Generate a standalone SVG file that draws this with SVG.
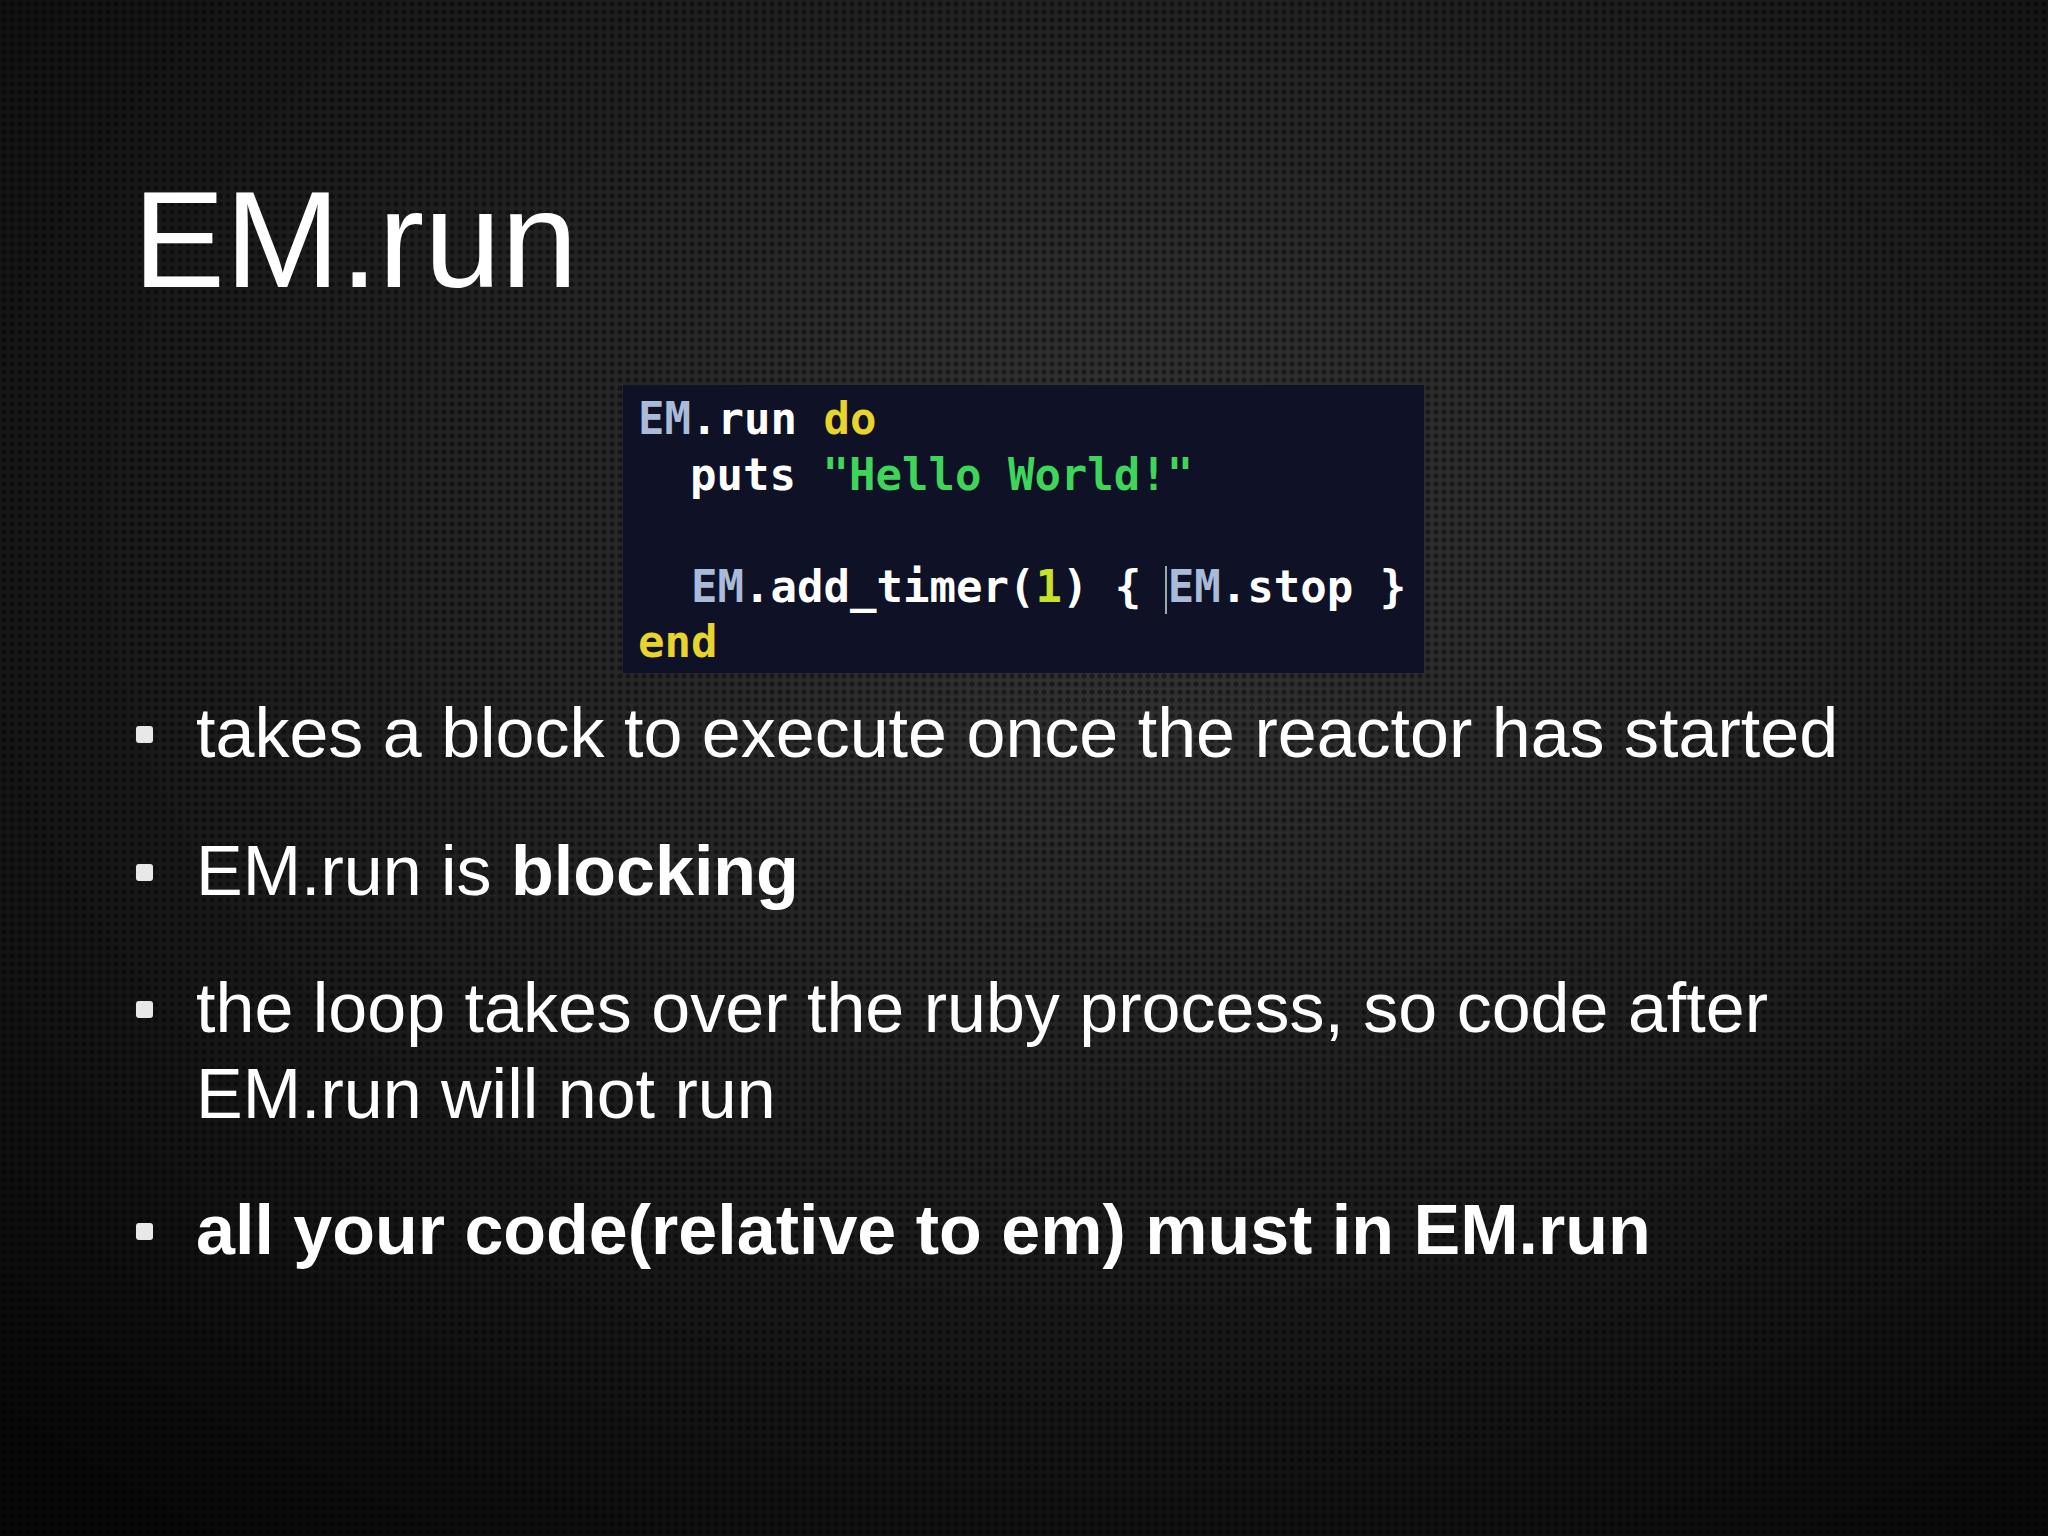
<svg xmlns="http://www.w3.org/2000/svg" width="2048" height="1536" viewBox="0 0 2048 1536">
<defs>
<radialGradient id="bg" cx="0.55" cy="0.35" r="0.8">
<stop offset="0" stop-color="#363636"/><stop offset="1" stop-color="#080808"/>
</radialGradient>
<pattern id="dots" width="8" height="8" patternUnits="userSpaceOnUse">
<circle cx="4" cy="4" r="2.6" fill="#000" fill-opacity="0.45"/>
</pattern>
<style>
.t{font-family:"Liberation Sans",Arial,sans-serif;fill:#fff}
.b{font-size:70px}
.c{font-family:"DejaVu Sans Mono",monospace;font-size:44px;font-weight:bold;fill:#fff}
.bul{fill:#e8e8e8}
</style>
</defs>
<rect width="2048" height="1536" fill="url(#bg)"/>
<rect width="2048" height="1536" fill="url(#dots)"/>
<text class="t" x="133" y="287" font-size="138">EM.run</text>
<g id="code">
<rect x="623" y="385" width="801" height="288" fill="#0f1226"/>
<text class="c" x="638" y="434"><tspan fill="#a9bbd9">EM</tspan>.run <tspan fill="#e8d42a">do</tspan></text>
<text class="c" x="690" y="490">puts <tspan fill="#3fd45a">"Hello World!"</tspan></text>
<text class="c" x="638" y="602" xml:space="preserve">  <tspan fill="#a9bbd9">EM</tspan>.add_timer(<tspan fill="#c7e02a">1</tspan>) { <tspan fill="#a9bbd9">EM</tspan>.stop }</text>
<line x1="1166" y1="566" x2="1166" y2="614" stroke="#9aa" stroke-width="2"/>
<text class="c" x="638" y="657" style="fill:#e8d42a">end</text>
</g>
<g id="bullets">
<rect class="bul" x="136" y="726" width="17" height="17" rx="3"/>
<rect class="bul" x="136" y="864" width="17" height="17" rx="3"/>
<rect class="bul" x="136" y="1001" width="17" height="17" rx="3"/>
<rect class="bul" x="136" y="1223" width="17" height="17" rx="3"/>
<text class="t b" x="196" y="757">takes a block to execute once the reactor has started</text>
<text class="t b" x="196" y="895">EM.run is <tspan font-weight="bold">blocking</tspan></text>
<text class="t b" x="196" y="1032">the loop takes over the ruby process, so code after</text>
<text class="t b" x="196" y="1118">EM.run will not run</text>
<text class="t b" x="196" y="1254" font-weight="bold">all your code(relative to em) must in EM.run</text>
</g>
</svg>
